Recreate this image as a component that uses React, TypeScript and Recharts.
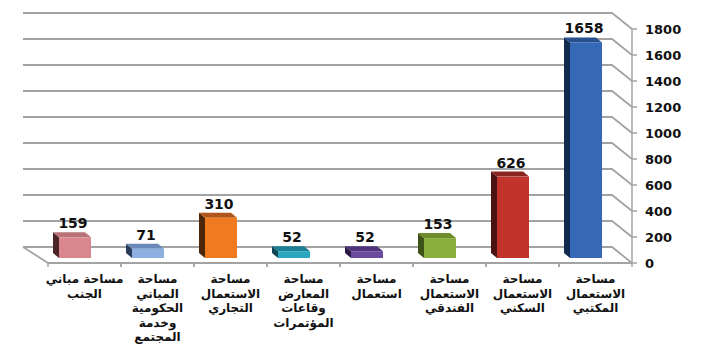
import { BarChart, Bar, XAxis, YAxis, CartesianGrid, Cell, LabelList } from 'recharts'

// categories listed right-to-left (axis is reversed)
const categories = [
  'مساحة\nالاستعمال\nالمكتبي',
  'مساحة\nالاستعمال\nالسكني',
  'مساحة\nالاستعمال\nالفندقي',
  'مساحة\nاستعمال',
  'مساحة\nالمعارض\nوقاعات\nالمؤتمرات',
  'مساحة\nالاستعمال\nالتجاري',
  'مساحة\nالمباني\nالحكومية\nوخدمة\nالمجتمع',
  'مساحة مباني\nالجنب',
]
const areas = [1658, 626, 153, 52, 52, 310, 71, 159]
const yTicks = [0, 200, 400, 600, 800, 1000, 1200, 1400, 1600, 1800]

const frontColors = ['#3668b8', '#c0342c', '#8aae3d', '#6a4a9c', '#2aa6bf', '#f07a20', '#8db0e0', '#d9878d']
const sideColors = ['#112a4d', '#4a1210', '#3d5218', '#2a1a45', '#114654', '#4d2608', '#2b3d5c', '#4a2426']
const topColors = ['#28508f', '#8a241e', '#6d8c2c', '#4e3478', '#1d7f94', '#b0561a', '#6a88b8', '#b87378']

const data = categories.map((name, i) => ({ name, value: areas[i], i }))

const W = 702
const H = 351
const M = { top: 29, right: 10, left: 48, bottom: 0 }
const YAXIS_W = 60
const XAXIS_H = 88
const PLOT_BOTTOM = H - XAXIS_H
const PLOT_W = W - M.left - M.right - YAXIS_W
const BAND = PLOT_W / categories.length

// 3d offsets
const BACK_DX = -25
const BACK_DY = -16
const BACK_RIGHT_DX = -20
const BAR_SHIFT_X = -10
const BAR_SHIFT_Y = -5
const DEPTH_X = -6
const DEPTH_Y = -5

const GRID = '#a3a3a3'
const FONT = '"DejaVu Sans", Verdana, sans-serif'

function GridLine(props: any) {
  const { x1, x2, y1 } = props
  let d = `M${x1 + BACK_DX},${y1 + BACK_DY} L${x2 + BACK_RIGHT_DX},${y1 + BACK_DY} L${x2},${y1}`
  if (Math.abs(y1 - PLOT_BOTTOM) < 1) {
    d += ` M${x1 + BACK_DX},${y1 + BACK_DY} L${x1},${y1}`
  }
  return <path key={props.key} d={d} fill="none" stroke={GRID} strokeWidth={1.8} />
}

function Box3D(props: any) {
  const { x, y, width, height, index } = props
  if (height == null || height <= 0) return null
  const X = x + BAR_SHIFT_X
  const Y = y + BAR_SHIFT_Y
  const w = width
  const h = height
  return (
    <g>
      <polygon
        points={`${X},${Y} ${X + DEPTH_X},${Y + DEPTH_Y} ${X + DEPTH_X},${Y + h + DEPTH_Y} ${X},${Y + h}`}
        fill={sideColors[index]}
      />
      <polygon
        points={`${X},${Y} ${X + DEPTH_X},${Y + DEPTH_Y} ${X + w + DEPTH_X},${Y + DEPTH_Y} ${X + w},${Y}`}
        fill={topColors[index]}
      />
      <rect x={X} y={Y} width={w} height={h} fill={frontColors[index]} />
    </g>
  )
}

function ValueLabel(props: any) {
  const { x, y, width, value } = props
  return (
    <text
      x={x + width / 2 + BAR_SHIFT_X - 2}
      y={y + BAR_SHIFT_Y + DEPTH_Y - 4}
      textAnchor="middle"
      fontFamily={FONT}
      fontWeight="bold"
      fontSize={14}
      fill="#111"
    >
      {value}
    </text>
  )
}

function CategoryTick(props: any) {
  const { x, payload } = props
  const lines = String(payload.value).split('\n')
  return (
    <g>
      <line x1={x - BAND / 2} x2={x - BAND / 2} y1={PLOT_BOTTOM} y2={PLOT_BOTTOM + 4} stroke={GRID} strokeWidth={1.5} />
      <line x1={x + BAND / 2} x2={x + BAND / 2} y1={PLOT_BOTTOM} y2={PLOT_BOTTOM + 4} stroke={GRID} strokeWidth={1.5} />
      <text textAnchor="middle" fontFamily={FONT} fontWeight="bold" fontSize={12} fill="#111" direction="rtl">
        {lines.map((l, i) => (
          <tspan key={i} x={x} y={PLOT_BOTTOM + 20 + i * 14.5}>
            {l}
          </tspan>
        ))}
      </text>
    </g>
  )
}

export default function App() {
  return (
    <div style={{ position: 'absolute', left: 0, top: 0, width: W, height: H, background: '#fff' }}>
      <BarChart width={W} height={H} data={data} margin={M} barSize={32}>
        <CartesianGrid vertical={false} horizontal={GridLine} />
        <XAxis
          dataKey="name"
          reversed
          height={XAXIS_H}
          interval={0}
          tickLine={false}
          axisLine={{ stroke: GRID, strokeWidth: 1.8 }}
          tick={CategoryTick}
        />
        <YAxis
          orientation="right"
          width={YAXIS_W}
          domain={[0, 1800]}
          ticks={yTicks}
          interval={0}
          tickSize={5}
          tickMargin={8}
          axisLine={{ stroke: GRID, strokeWidth: 1.5 }}
          tickLine={{ stroke: GRID, strokeWidth: 1.5 }}
          tick={{ fontFamily: FONT, fontWeight: 'bold', fontSize: 13, fill: '#111' }}
        />
        <Bar dataKey="value" shape={Box3D} isAnimationActive={false}>
          {data.map((d) => (
            <Cell key={d.i} fill={frontColors[d.i]} />
          ))}
          <LabelList dataKey="value" content={ValueLabel} />
        </Bar>
      </BarChart>
    </div>
  )
}
